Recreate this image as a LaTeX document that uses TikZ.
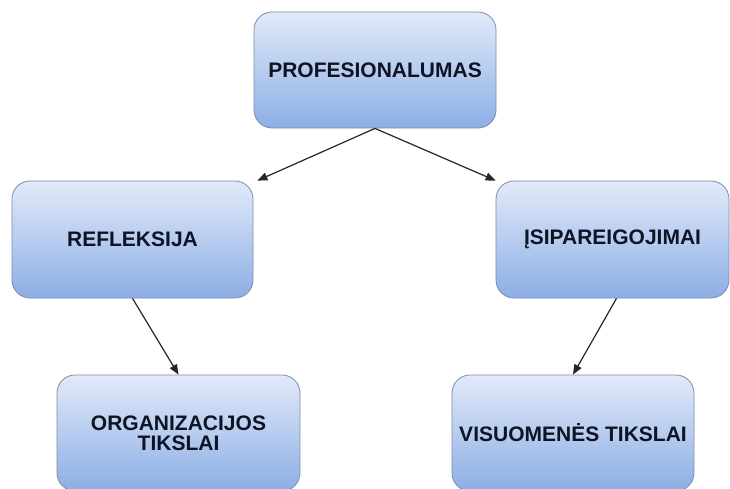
\documentclass[tikz,border=0pt]{standalone}
\usepackage{fontspec}
\setmainfont{Liberation Sans}
\usetikzlibrary{arrows.meta}

\definecolor{boxtop}{HTML}{E2EAF9}
\definecolor{boxbottom}{HTML}{8CAEE5}
\definecolor{boxline}{HTML}{7C8DAA}
\definecolor{labelink}{HTML}{0E1424}

\tikzset{
  conceptbox/.style={
    rectangle, rounded corners=18pt,
    draw=boxline, line width=0.8pt,
    top color=boxtop, bottom color=boxbottom,
    text=labelink, align=center,
    font=\fontsize{21}{20}\selectfont\bfseries,
    inner sep=0pt
  },
  link/.style={
    draw=black!85, line width=1.2pt,
    -{Triangle[length=10pt,width=8pt]}
  }
}

\begin{document}
\begin{tikzpicture}[x=1pt,y=-1pt]
  % canvas
  \path[use as bounding box] (0,0) rectangle (730,488);
  \clip (0,0) rectangle (730,488);
  \fill[white] (0,0) rectangle (730,488);

  % boxes
  \node[conceptbox, minimum width=242pt, minimum height=116pt] (prof) at (375,70) {PROFESIONALUMAS};
  \node[conceptbox, minimum width=241pt, minimum height=117pt] (refl) at (132.5,239.5) {REFLEKSIJA};
  \node[conceptbox, minimum width=233pt, minimum height=117pt] (isip) at (612.5,239.5) {ĮSIPAREIGOJIMAI};
  \node[conceptbox, minimum width=243pt, minimum height=116pt] (org) at (178.5,433) {ORGANIZACIJOS\\TIKSLAI};
  \node[conceptbox, minimum width=242pt, minimum height=116pt] (vis) at (573,433) {VISUOMENĖS TIKSLAI};

  % connectors
  \draw[link] (prof.south) -- ([xshift=4pt]refl.north east);
  \draw[link] (prof.south) -- (isip.north west);
  \draw[link] (refl.south) -- (org.north);
  \draw[link] ([xshift=4pt]isip.south) -- (vis.north);
\end{tikzpicture}
\end{document}
